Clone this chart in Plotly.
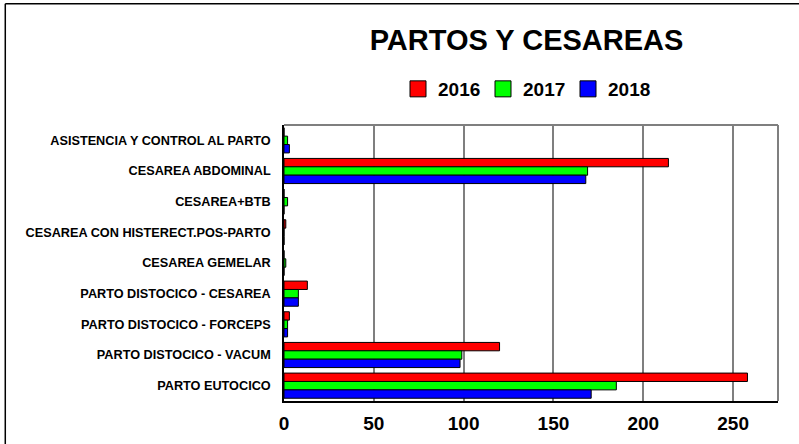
import plotly.graph_objects as go

categories = [
    "ASISTENCIA Y CONTROL AL PARTO",
    "CESAREA ABDOMINAL",
    "CESAREA+BTB",
    "CESAREA CON HISTERECT.POS-PARTO",
    "CESAREA GEMELAR",
    "PARTO DISTOCICO - CESAREA",
    "PARTO DISTOCICO - FORCEPS",
    "PARTO DISTOCICO - VACUM",
    "PARTO EUTOCICO",
]
years = ["2016", "2017", "2018"]
v2016 = [0, 214, 0, 1, 0, 13, 3, 120, 258]
v2017 = [2, 169, 2, 0, 1, 8, 2, 99, 185]
v2018 = [3, 168, 0, 0, 0, 8, 2, 98, 171]
colors = ["#FF0000", "#00FF00", "#0000FF"]
x_ticks = [0, 50, 100, 150, 200, 250]

FONT = "Liberation Sans, Arial, sans-serif"

fig = go.Figure()
for name, vals, col in zip(years, [v2016, v2017, v2018], colors):
    fig.add_trace(go.Bar(
        y=categories, x=vals, name=name, orientation="h", showlegend=False,
        marker=dict(color=col, line=dict(color="black", width=1)),
    ))
# legend entries (square swatches)
for name, col in zip(years, colors):
    fig.add_trace(go.Scatter(
        x=[None], y=[None], mode="markers", name=f"<b>{name}</b>",
        marker=dict(symbol="square", size=16, color=col, line=dict(color="black", width=1)),
    ))

W, H = 799, 444
L, R, T, B = 283.5, 21, 125, 43.3

fig.update_layout(
    width=W, height=H,
    margin=dict(l=L, r=R, t=T, b=B, autoexpand=False),
    paper_bgcolor="white", plot_bgcolor="white",
    barmode="group", bargap=0.18, bargroupgap=0,
    font=dict(family=FONT, color="black"),
    title=dict(text="<b>PARTOS Y CESAREAS</b>", x=526.5 / W, xanchor="center",
               y=1 - 40 / H, yanchor="middle", font=dict(size=29, family=FONT)),
    legend=dict(orientation="h", x=398 / W, xref="container", xanchor="left",
                y=1 - 89 / H, yref="container", yanchor="middle",
                font=dict(size=19, family=FONT), traceorder="normal",
                entrywidth=40, entrywidthmode="pixels", itemclick=False),
    showlegend=True,
)
fig.update_xaxes(
    range=[0, 275], tickvals=x_ticks, ticktext=[f"<b>{t}</b>" for t in x_ticks],
    tickfont=dict(size=19, family=FONT), showgrid=True, gridcolor="#7f7f7f", gridwidth=2,
    showline=True, linecolor="black", linewidth=2, mirror=False, zeroline=False,
    ticks="", ticklen=0, ticklabelstandoff=4, automargin=False,
)
fig.update_yaxes(
    autorange="reversed", tickvals=categories,
    ticktext=[f"<b>{c}</b>" for c in categories],
    tickfont=dict(size=12.7, family=FONT), showline=True, linecolor="black",
    linewidth=1.5, ticks="", ticklabelstandoff=9, automargin=False,
)
# gray frame top & right
fig.add_shape(type="line", xref="paper", yref="paper", x0=0, x1=1, y0=1, y1=1,
              line=dict(color="#7f7f7f", width=2))
fig.add_shape(type="line", xref="paper", yref="paper", x0=1, x1=1, y0=0, y1=1,
              line=dict(color="#7f7f7f", width=2))
# outer border (left and top)
pw = W - L - R
ph = H - T - B
fig.add_shape(type="line", xref="paper", yref="paper",
              x0=(4.5 - L) / pw, x1=(4.5 - L) / pw, y0=(H - B - 450) / ph, y1=(H - B - 4) / ph,
              line=dict(color="black", width=1.5))
fig.add_shape(type="line", xref="paper", yref="paper",
              x0=(4.5 - L) / pw, x1=(810 - L) / pw, y0=(H - B - 4) / ph, y1=(H - B - 4) / ph,
              line=dict(color="black", width=1.5))

fig.write_html("out.html", config={"displayModeBar": False},
               post_script="document.body.style.margin='0';")
